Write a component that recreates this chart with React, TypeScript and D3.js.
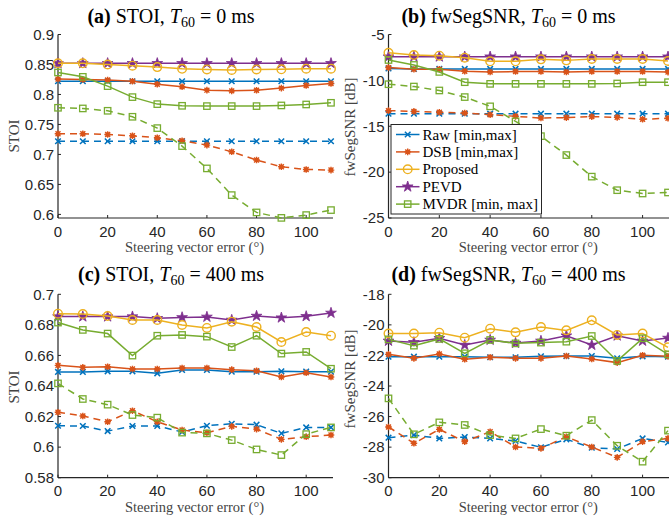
import React from 'react';
import * as d3 from 'd3';

const X = [0, 10, 20, 30, 40, 50, 60, 70, 80, 90, 100, 110];
const xTicks = [0, 20, 40, 60, 80, 100];

// (a) STOI, T60 = 0 ms
const aRawMax = [0.822, 0.822, 0.822, 0.822, 0.822, 0.822, 0.822, 0.822, 0.822, 0.822, 0.822, 0.822];
const aRawMin = [0.722, 0.722, 0.722, 0.722, 0.722, 0.722, 0.722, 0.722, 0.722, 0.722, 0.722, 0.722];
const aDsbMax = [0.8256, 0.825, 0.824, 0.822, 0.817, 0.8128, 0.8072, 0.806, 0.807, 0.8106, 0.815, 0.8183];
const aDsbMin = [0.7344, 0.7344, 0.7333, 0.7311, 0.7278, 0.7228, 0.7156, 0.7044, 0.6906, 0.6794, 0.675, 0.6739];
const aProposed = [0.852, 0.852, 0.85, 0.848, 0.8456, 0.8428, 0.8417, 0.841, 0.8417, 0.842, 0.843, 0.843];
const aPevd = [0.852, 0.852, 0.852, 0.852, 0.852, 0.852, 0.852, 0.852, 0.852, 0.852, 0.852, 0.852];
const aMvdrMax = [0.8367, 0.8294, 0.8139, 0.7956, 0.7839, 0.7811, 0.7806, 0.7806, 0.7806, 0.7817, 0.7833, 0.7861];
const aMvdrMin = [0.7778, 0.7767, 0.7728, 0.7628, 0.7439, 0.7139, 0.6767, 0.6322, 0.6033, 0.5942, 0.5989, 0.6072];

// (b) fwSegSNR, T60 = 0 ms
const bRawMax = [-8.7, -8.75, -8.75, -8.75, -8.75, -8.75, -8.75, -8.75, -8.75, -8.75, -8.75, -8.75];
const bRawMin = [-13.63, -13.63, -13.63, -13.63, -13.63, -13.63, -13.63, -13.63, -13.63, -13.63, -13.63, -13.63];
const bDsbMax = [-8.61, -8.79, -8.79, -9.0, -9.08, -9.04, -9.04, -9.08, -9.04, -9.04, -9.04, -9.1];
const bDsbMin = [-13.3, -13.38, -13.48, -13.56, -13.74, -13.92, -14.1, -14.06, -13.95, -14.03, -14.24, -14.13];
const bProposed = [-6.99, -7.24, -7.31, -7.53, -7.92, -7.92, -7.71, -7.82, -7.67, -7.67, -7.67, -7.89];
const bPevd = [-7.42, -7.42, -7.42, -7.42, -7.42, -7.42, -7.42, -7.42, -7.42, -7.42, -7.42, -7.42];
const bMvdrMax = [-7.78, -8.32, -9.08, -10.2, -10.38, -10.38, -10.38, -10.38, -10.38, -10.34, -10.2, -10.2];
const bMvdrMin = [-10.42, -10.67, -11.1, -11.82, -12.83, -14.46, -16.08, -18.14, -20.49, -21.97, -22.33, -22.22];

// (c) STOI, T60 = 400 ms
const cRawMax = [0.6492, 0.6492, 0.6496, 0.6496, 0.6483, 0.6505, 0.6505, 0.6494, 0.6494, 0.6496, 0.6494, 0.6494];
const cRawMin = [0.614, 0.6138, 0.6105, 0.6138, 0.6138, 0.6099, 0.614, 0.6153, 0.6147, 0.609, 0.6129, 0.6129];
const cDsbMax = [0.6535, 0.6522, 0.6526, 0.6511, 0.6511, 0.6518, 0.6518, 0.6507, 0.65, 0.6459, 0.6487, 0.6459];
const cDsbMin = [0.6228, 0.6204, 0.6166, 0.6238, 0.6166, 0.6112, 0.6094, 0.6136, 0.6118, 0.6051, 0.6068, 0.6079];
const cProposed = [0.6873, 0.6871, 0.6858, 0.6832, 0.6832, 0.6799, 0.678, 0.6821, 0.6786, 0.6688, 0.6753, 0.6729];
const cPevd = [0.6854, 0.6854, 0.6854, 0.6854, 0.6843, 0.6849, 0.6852, 0.6832, 0.6858, 0.6847, 0.6856, 0.6878];
const cMvdrMax = [0.6815, 0.6767, 0.6743, 0.6599, 0.6729, 0.6734, 0.6723, 0.6655, 0.6729, 0.6612, 0.6623, 0.6513];
const cMvdrMin = [0.6417, 0.6315, 0.6278, 0.621, 0.6193, 0.6095, 0.609, 0.6046, 0.5985, 0.5948, 0.6085, 0.6129];

// (d) fwSegSNR, T60 = 400 ms
const dRawMax = [-22.08, -22.08, -22.08, -22.08, -22.12, -22.12, -22.06, -22.04, -22.04, -22.19, -22.06, -22.08];
const dRawMin = [-27.38, -27.21, -27.43, -27.34, -27.43, -27.6, -28.01, -27.49, -28.04, -28.12, -27.43, -27.69];
const dDsbMax = [-21.93, -22.19, -21.9, -22.25, -22.12, -22.19, -22.19, -22.04, -22.23, -22.47, -21.99, -22.06];
const dDsbMin = [-26.68, -27.75, -26.84, -27.64, -26.99, -27.99, -28.08, -27.32, -27.99, -28.67, -27.64, -27.43];
const dProposed = [-20.57, -20.57, -20.51, -20.84, -20.25, -20.49, -20.14, -20.36, -19.7, -20.66, -20.57, -21.47];
const dPevd = [-21.05, -21.14, -20.88, -21.32, -20.99, -21.19, -21.05, -20.71, -21.32, -20.71, -21.05, -20.86];
const dMvdrMax = [-20.95, -21.36, -20.92, -21.86, -20.99, -21.21, -21.16, -21.1, -20.73, -22.36, -20.88, -21.93];
const dMvdrMin = [-24.81, -27.16, -26.38, -26.55, -27.21, -27.43, -26.82, -27.25, -26.23, -27.91, -28.95, -26.92];

const legendNames = ['Raw [min,max]', 'DSB [min,max]', 'Proposed', 'PEVD', 'MVDR [min, max]'];

const BLUE = '#0072BD';
const ORANGE = '#D95319';
const YELLOW = '#EDB120';
const PURPLE = '#7E2F8E';
const GREEN = '#77AC30';

type Marker = 'x' | '*' | 'o' | 'p' | 's';
interface Series { color: string; marker: Marker; dashed: boolean; values: number[] }

function makeSeries(rawMax: number[], rawMin: number[], dsbMax: number[], dsbMin: number[], prop: number[], pevd: number[], mvMax: number[], mvMin: number[]): Series[] {
  return [
    { color: BLUE, marker: 'x', dashed: false, values: rawMax },
    { color: BLUE, marker: 'x', dashed: true, values: rawMin },
    { color: ORANGE, marker: '*', dashed: false, values: dsbMax },
    { color: ORANGE, marker: '*', dashed: true, values: dsbMin },
    { color: PURPLE, marker: 'p', dashed: false, values: pevd },
    { color: YELLOW, marker: 'o', dashed: false, values: prop },
    { color: GREEN, marker: 's', dashed: false, values: mvMax },
    { color: GREEN, marker: 's', dashed: true, values: mvMin },
  ];
}

const starPath = d3.symbol(d3.symbolStar, 36)() as string;

function MarkerShape({ m, cx, cy, color }: { m: Marker; cx: number; cy: number; color: string }) {
  if (m === 'x') {
    const h = 2.8;
    return <path d={`M${cx - h},${cy - h}L${cx + h},${cy + h}M${cx - h},${cy + h}L${cx + h},${cy - h}`} stroke={color} strokeWidth={1.5} fill="none" />;
  }
  if (m === '*') {
    const h = 3.3;
    const d = h * 0.75;
    return (
      <g>
        <circle cx={cx} cy={cy} r={2.3} fill={color} />
        <path d={`M${cx - h},${cy}L${cx + h},${cy}M${cx},${cy - h}L${cx},${cy + h}M${cx - d},${cy - d}L${cx + d},${cy + d}M${cx - d},${cy + d}L${cx + d},${cy - d}`} stroke={color} strokeWidth={1.4} fill="none" />
      </g>
    );
  }
  if (m === 'o') {
    return <circle cx={cx} cy={cy} r={4.3} stroke={color} strokeWidth={1.4} fill="none" />;
  }
  if (m === 's') {
    const h = 3.2;
    return <rect x={cx - h} y={cy - h} width={2 * h} height={2 * h} stroke={color} strokeWidth={1.3} fill="none" />;
  }
  return <path d={starPath} transform={`translate(${cx},${cy})`} fill={color} stroke={color} strokeWidth={0.8} />;
}

interface PanelProps {
  x0: number; x1: number; yTop: number; yBot: number;
  domain: [number, number]; ticks: number[];
  series: Series[];
  tag: string; metric: string; t60: string; titleX: number; titleY: number;
  ylabel: string; ylabelX: number; ylabelY: number;
  xlabelY: number;
  legend?: boolean;
}

const SANS = '"Liberation Sans", Arial, sans-serif';
const SERIF = '"Liberation Serif", "Times New Roman", serif';
const AX = '#262626';

function Panel(p: PanelProps) {
  const xs = d3.scaleLinear().domain([0, 110]).range([p.x0, p.x1]);
  const ys = d3.scaleLinear().domain(p.domain).range([p.yBot, p.yTop]);
  const line = d3.line<number>().x((_, i) => xs(X[i])).y((v) => ys(v));
  const fmt = (v: number) => String(+v.toFixed(2));
  return (
    <g>
      {/* axes */}
      <line x1={p.x0} x2={p.x0} y1={p.yTop} y2={p.yBot} stroke={AX} strokeWidth={1.2} />
      <line x1={p.x0} x2={p.x1 + 2} y1={p.yBot} y2={p.yBot} stroke={AX} strokeWidth={1.2} />
      {p.ticks.map((t) => (
        <g key={'y' + t}>
          <line x1={p.x0} x2={p.x0 + 3} y1={ys(t)} y2={ys(t)} stroke={AX} strokeWidth={1} />
          <text x={p.x0 - 4} y={ys(t) + 5.3} textAnchor="end" fontFamily={SANS} fontSize={15} fill={AX}>{fmt(t)}</text>
        </g>
      ))}
      {xTicks.map((t) => (
        <g key={'x' + t}>
          <line x1={xs(t)} x2={xs(t)} y1={p.yBot} y2={p.yBot - 3} stroke={AX} strokeWidth={1} />
          <text x={xs(t)} y={p.yBot + 18.5} textAnchor="middle" fontFamily={SANS} fontSize={15} fill={AX}>{t}</text>
        </g>
      ))}
      {/* series */}
      {p.series.map((s, i) => (
        <g key={'s' + i}>
          <path d={line(s.values) as string} fill="none" stroke={s.color} strokeWidth={1.5} strokeDasharray={s.dashed ? '7,5' : undefined} />
          {s.values.map((v, j) => (
            <MarkerShape key={j} m={s.marker} cx={xs(X[j])} cy={ys(v)} color={s.color} />
          ))}
        </g>
      ))}
      {/* title */}
      <text x={p.titleX} y={p.titleY} textAnchor="middle" fontFamily={SERIF} fontSize={20} fill="#000">
        <tspan fontWeight="bold">{p.tag}</tspan>
        <tspan>{' ' + p.metric + ', '}</tspan>
        <tspan fontStyle="italic">T</tspan>
        <tspan fontSize={14} dy={4}>60</tspan>
        <tspan dy={-4}>{' = ' + p.t60 + ' ms'}</tspan>
      </text>
      {/* labels */}
      <text x={(p.x0 + p.x1) / 2} y={p.xlabelY} textAnchor="middle" fontFamily={SERIF} fontSize={14.5} fill="#444">Steering vector error (°)</text>
      <text transform={`translate(${p.ylabelX},${p.ylabelY}) rotate(-90)`} textAnchor="middle" fontFamily={SERIF} fontSize={15} fill="#444">{p.ylabel}</text>
      {p.legend && (
        <g>
          <rect x={391} y={124.5} width={150.5} height={89.5} fill="#fff" stroke={AX} strokeWidth={1} />
          {legendNames.map((name, i) => {
            const s = [p.series[0], p.series[2], p.series[5], p.series[4], p.series[6]][i];
            const y = 134.5 + i * 17.4;
            return (
              <g key={name}>
                <line x1={396} x2={419.5} y1={y} y2={y} stroke={s.color} strokeWidth={1.5} />
                <MarkerShape m={s.marker} cx={407.7} cy={y} color={s.color} />
                <text x={422.5} y={y + 5} fontFamily={SERIF} fontSize={15} fill="#000">{name}</text>
              </g>
            );
          })}
        </g>
      )}
    </g>
  );
}

export default function App() {
  const seriesA = makeSeries(aRawMax, aRawMin, aDsbMax, aDsbMin, aProposed, aPevd, aMvdrMax, aMvdrMin);
  const seriesB = makeSeries(bRawMax, bRawMin, bDsbMax, bDsbMin, bProposed, bPevd, bMvdrMax, bMvdrMin);
  const seriesC = makeSeries(cRawMax, cRawMin, cDsbMax, cDsbMin, cProposed, cPevd, cMvdrMax, cMvdrMin);
  const seriesD = makeSeries(dRawMax, dRawMin, dDsbMax, dDsbMin, dProposed, dPevd, dMvdrMax, dMvdrMin);
  const ticksA = [0.6, 0.65, 0.7, 0.75, 0.8, 0.85, 0.9];
  const ticksB = [-25, -20, -15, -10, -5];
  const ticksC = [0.58, 0.6, 0.62, 0.64, 0.66, 0.68, 0.7];
  const ticksD = [-30, -28, -26, -24, -22, -20, -18];
  return (
    <svg width={669} height={518} style={{ position: 'absolute', left: 0, top: 0, background: '#fff' }}>
      <rect x={0} y={0} width={669} height={518} fill="#fff" />
      <Panel x0={58} x1={331} yTop={34.5} yBot={218} domain={[0.594, 0.9]} ticks={ticksA} series={seriesA}
        tag="(a)" metric="STOI" t60="0" titleX={171} titleY={22.5} ylabel="STOI" ylabelX={19} ylabelY={136} xlabelY={252} />
      <Panel x0={388.5} x1={668} yTop={34.5} yBot={218} domain={[-25, -5]} ticks={ticksB} series={seriesB}
        tag="(b)" metric="fwSegSNR" t60="0" titleX={508.5} titleY={22.5} ylabel="fwSegSNR [dB]" ylabelX={355} ylabelY={127} xlabelY={252} legend />
      <Panel x0={58} x1={331} yTop={294.3} yBot={477.7} domain={[0.58, 0.7]} ticks={ticksC} series={seriesC}
        tag="(c)" metric="STOI" t60="400" titleX={171} titleY={280.5} ylabel="STOI" ylabelX={19} ylabelY={387} xlabelY={511.7} />
      <Panel x0={388.5} x1={668} yTop={294.3} yBot={477.7} domain={[-30, -18]} ticks={ticksD} series={seriesD}
        tag="(d)" metric="fwSegSNR" t60="400" titleX={508.5} titleY={280.5} ylabel="fwSegSNR [dB]" ylabelX={355} ylabelY={379} xlabelY={511.7} />
    </svg>
  );
}
